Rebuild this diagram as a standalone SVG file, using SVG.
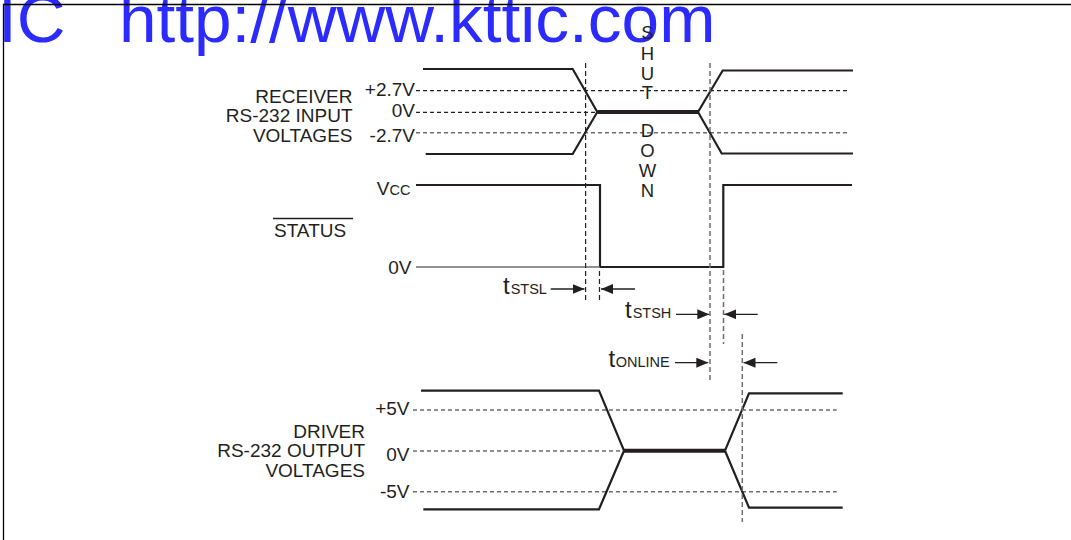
<svg xmlns="http://www.w3.org/2000/svg" width="1071" height="540" viewBox="0 0 1071 540">
<style>
.wm{font-family:"Liberation Sans",Arial,Helvetica,sans-serif;font-size:67.5px;fill:#2b2bff}
.lb{font-family:"Liberation Sans",Arial,Helvetica,sans-serif;font-size:19px;fill:#231f20}
.lbr{font-family:"Liberation Sans",Arial,Helvetica,sans-serif;font-size:19px;fill:#231f20;text-anchor:end}
.sd{font-family:"Liberation Sans",Arial,Helvetica,sans-serif;font-size:18.5px;fill:#231f20;text-anchor:middle}
.big{font-size:24px}
.sub{font-size:14.5px}
.wave{fill:none;stroke:#231f20;stroke-width:2.2;stroke-linejoin:miter}
.thick{fill:none;stroke:#231f20;stroke-width:4}
.ref{fill:none;stroke:#231f20;stroke-width:1.2;stroke-dasharray:4 3}
.refg{fill:none;stroke:#6d6e71;stroke-width:1.5;stroke-dasharray:4 3}
.vd{fill:none;stroke:#231f20;stroke-width:1.2;stroke-dasharray:5 3}
.vdg{fill:none;stroke:#6d6e71;stroke-width:1.5;stroke-dasharray:5 3}
.arr{fill:none;stroke:#231f20;stroke-width:1.3}
.frame{fill:none;stroke:#000;stroke-width:1.3}
</style>
<defs>
<marker id="ah" viewBox="0 0 12 10" refX="12" refY="5" markerWidth="12" markerHeight="10" markerUnits="userSpaceOnUse" orient="auto">
<path d="M0,0 L12,5 L0,10 Z" fill="#231f20"/>
</marker>
</defs>

<g id="watermark">
<text class="wm" x="-2" y="42">IC</text>
<text class="wm" x="119" y="42">http://www.kttic.com</text>
</g>

<g id="frame">
<path class="frame" d="M3.5,540 V4.5 H1071"/>
</g>

<g id="receiver">
<text class="lbr" x="352.5" y="102.5">RECEIVER</text>
<text class="lbr" x="352.5" y="121.5">RS-232 INPUT</text>
<text class="lbr" x="352.5" y="141.5">VOLTAGES</text>
<text class="lbr" x="415" y="96">+2.7V</text>
<text class="lbr" x="415" y="117">0V</text>
<text class="lbr" x="415" y="142">-2.7V</text>
<path class="ref" d="M416,90.7 H848"/>
<path class="ref" d="M416,112.3 H597"/>
<path class="refg" d="M416,132.7 H848"/>
<path class="wave" d="M423,69 H572.7 L597.3,112"/>
<path class="wave" d="M425.7,154 H572.7 L597.3,112"/>
<path class="thick" d="M597.3,112 H698"/>
<path class="wave" d="M698,112 L722.7,70.5 H853"/>
<path class="wave" d="M698,112 L721.7,153.5 H853"/>
</g>

<g id="shutdown">
<text class="sd" x="647.5" y="39.3">S</text>
<text class="sd" x="647.5" y="60">H</text>
<text class="sd" x="647.5" y="80">U</text>
<text class="sd" x="647.5" y="99.3">T</text>
<text class="sd" x="647.5" y="137.3">D</text>
<text class="sd" x="647.5" y="157.3">O</text>
<text class="sd" x="647.5" y="177.3">W</text>
<text class="sd" x="647.5" y="196.5">N</text>
</g>

<g id="status">
<text class="lb" x="274" y="237.3">STATUS</text>
<path d="M273,218.5 H353" stroke="#231f20" stroke-width="1.5"/>
<text class="lbr" x="410.5" y="195"><tspan>V</tspan><tspan class="sub">CC</tspan></text>
<text class="lbr" x="411.5" y="274.3">0V</text>
<path class="wave" d="M416,185 H600 V267 H723.3 V185 H852"/>
<path d="M416,267 H600" stroke="#6d6e71" stroke-width="1.5"/>
</g>

<g id="driver">
<text class="lbr" x="365" y="437.7">DRIVER</text>
<text class="lbr" x="365" y="457.3">RS-232 OUTPUT</text>
<text class="lbr" x="365" y="476.7">VOLTAGES</text>
<text class="lbr" x="409.5" y="415">+5V</text>
<text class="lbr" x="409.5" y="460.7">0V</text>
<text class="lbr" x="409.5" y="498.3">-5V</text>
<path class="ref" d="M413,410 H836.7"/>
<path class="ref" d="M413,451 H624"/>
<path class="refg" d="M413,491.7 H836.7"/>
<path class="wave" d="M421,390.7 H599 L624,450.7"/>
<path class="wave" d="M423.3,509.3 H599 L624,450.7"/>
<path class="thick" d="M624,450.7 H725"/>
<path class="wave" d="M725,450.7 L749,393.3 H842.7"/>
<path class="wave" d="M725,450.7 L749,507.7 H842.7"/>
</g>

<g id="timing-labels">
<text class="lb" x="503" y="294"><tspan class="big">t</tspan><tspan class="sub" dx="1">STSL</tspan></text>
<text class="lb" x="625" y="318.3"><tspan class="big">t</tspan><tspan class="sub" dx="1">STSH</tspan></text>
<text class="lb" x="608.5" y="367.3"><tspan class="big">t</tspan><tspan class="sub" dx="0.5">ONLINE</tspan></text>
</g>

<g id="connectors">
<path class="vd" d="M585.6,63 V303"/>
<path class="vdg" d="M710,63 V381"/>
<path class="vd" d="M599.5,271 V302"/>
<path class="vdg" d="M723.5,270 V344"/>
<path class="vdg" d="M742.3,334 V522"/>
<path class="arr" d="M550.7,289 H584.5" marker-end="url(#ah)"/>
<path class="arr" d="M635,289 H601" marker-end="url(#ah)"/>
<path class="arr" d="M676,314.3 H709.3" marker-end="url(#ah)"/>
<path class="arr" d="M757.7,314.3 H724.3" marker-end="url(#ah)"/>
<path class="arr" d="M675,362.7 H708.3" marker-end="url(#ah)"/>
<path class="arr" d="M777.3,362.7 H743.5" marker-end="url(#ah)"/>
</g>
</svg>
